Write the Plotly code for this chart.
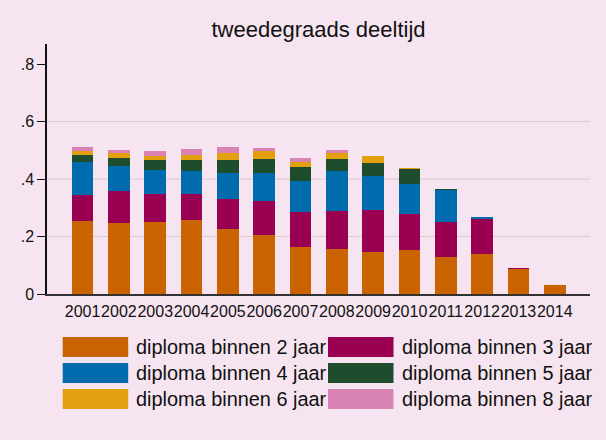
import plotly.graph_objects as go

years = [2001, 2002, 2003, 2004, 2005, 2006, 2007, 2008, 2009, 2010, 2011, 2012, 2013, 2014]
year_labels = [str(y) for y in years]

binnen_2 = [0.253, 0.248, 0.250, 0.257, 0.227, 0.205, 0.162, 0.157, 0.145, 0.154, 0.129, 0.140, 0.087, 0.030]
binnen_3 = [0.092, 0.109, 0.099, 0.091, 0.103, 0.118, 0.123, 0.132, 0.147, 0.124, 0.120, 0.122, 0.003, 0.0]
binnen_4 = [0.114, 0.088, 0.082, 0.080, 0.092, 0.099, 0.109, 0.138, 0.117, 0.105, 0.113, 0.005, 0.0, 0.0]
binnen_5 = [0.026, 0.029, 0.034, 0.040, 0.046, 0.049, 0.047, 0.044, 0.047, 0.053, 0.003, 0.0, 0.0, 0.0]
binnen_6 = [0.012, 0.015, 0.016, 0.015, 0.022, 0.025, 0.020, 0.019, 0.025, 0.001, 0.0, 0.0, 0.0, 0.0]
binnen_8 = [0.013, 0.011, 0.016, 0.020, 0.021, 0.013, 0.013, 0.010, 0.0, 0.0, 0.0, 0.0, 0.0, 0.0]

series_names = ["diploma binnen 2 jaar", "diploma binnen 3 jaar", "diploma binnen 4 jaar",
                "diploma binnen 5 jaar", "diploma binnen 6 jaar", "diploma binnen 8 jaar"]
series_values = [binnen_2, binnen_3, binnen_4, binnen_5, binnen_6, binnen_8]
colors = ["#C96400", "#990052", "#006CAE", "#1E4D2E", "#E2A00E", "#D983B4"]

y_ticks = [0, 0.2, 0.4, 0.6, 0.8]
y_ticktext = ["0", ".2", ".4", ".6", ".8"]
grid_vals = [0.2, 0.4, 0.6]

W, H = 606, 440
L, R, T, B = 47, 16, 44, 146
FONT = "Liberation Sans, Arial, sans-serif"
BG = "#F6E5F0"

fig = go.Figure()
for name, vals, col in zip(series_names, series_values, colors):
    fig.add_trace(go.Bar(x=years, y=vals, name=name, marker=dict(color=col, line=dict(width=0)),
                         width=0.6, showlegend=False))

for g in grid_vals:
    fig.add_hline(y=g, line=dict(color="#D9C9D3", width=1), layer="below")

# custom legend (2 columns x 3 rows), pixel layout converted to paper coords
pw, ph = W - L - R, H - T - B
def px(xpix):
    return (xpix - L) / pw
def py(ypix):
    return (H - B - ypix) / ph

col_x = [62.7, 328]
row_y = [337, 363, 389]
sw_w, sw_h = 65.5, 20
for i, (name, col) in enumerate(zip(series_names, colors)):
    r, c = divmod(i, 2)
    x0 = col_x[c]
    y0 = row_y[r]
    fig.add_shape(type="rect", xref="paper", yref="paper",
                  x0=px(x0), x1=px(x0 + sw_w), y0=py(y0 + sw_h), y1=py(y0),
                  fillcolor=col, line=dict(width=0))
    fig.add_annotation(xref="paper", yref="paper", x=px(x0 + sw_w + 6), y=py(y0 + sw_h / 2),
                       text=name, showarrow=False, xanchor="left", yanchor="middle",
                       font=dict(family=FONT, size=19.9, color="#111111"))

fig.update_layout(
    width=W, height=H,
    margin=dict(l=L, r=R, t=T, b=B, pad=0),
    barmode="stack",
    paper_bgcolor=BG, plot_bgcolor=BG,
    font=dict(family=FONT, color="#111111"),
    title=dict(text="tweedegraads deeltijd", x=0.5, xref="paper", y=1 - 29 / H, yref="container",
               xanchor="center", yanchor="middle", font=dict(family=FONT, size=22, color="#111111")),
    bargap=0.4,
)
fig.update_xaxes(range=[2000.02, 2014.97], tickmode="array", tickvals=years, ticktext=year_labels,
                 showgrid=False, zeroline=False, showline=True, linecolor="#333333", linewidth=1.5,
                 ticks="", tickangle=0, ticklabelstandoff=2, tickfont=dict(size=16, color="#111111"))
fig.update_yaxes(range=[0, 0.87], tickmode="array", tickvals=y_ticks, ticktext=y_ticktext,
                 showgrid=False, zeroline=False, showline=True, linecolor="#111111", linewidth=1.5,
                 ticks="outside", ticklen=8, tickwidth=1.2, tickcolor="#111111",
                 tickfont=dict(size=16, color="#111111"))

fig.write_html("out.html", config={"displayModeBar": False},
               post_script="document.body.style.margin='0';document.body.style.background='" + BG + "';")
